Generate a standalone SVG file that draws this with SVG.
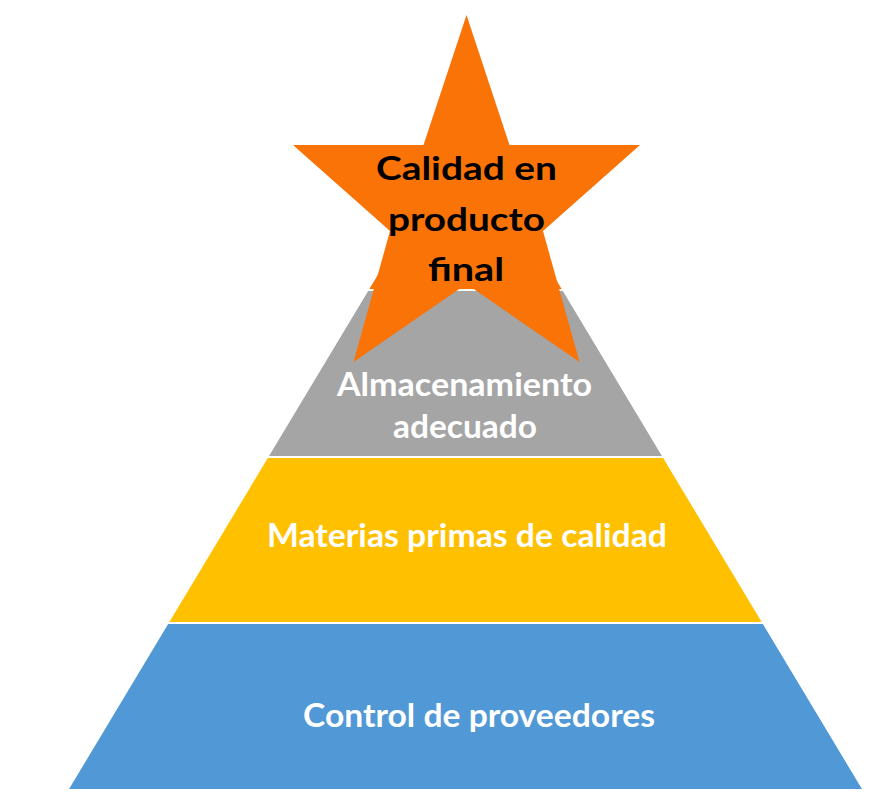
<svg xmlns="http://www.w3.org/2000/svg" width="874" height="802" viewBox="0 0 874 802">
<style>
.band{stroke:#FFFFFF;stroke-width:2;stroke-linejoin:miter}
.lbl{font-family:Lato,"Open Sans","Liberation Sans",sans-serif;font-weight:700;font-size:33px;text-anchor:middle}
.w{fill:#FFFFFF}
.k{fill:#000000}
</style>
<rect width="874" height="802" fill="#FFFFFF"/>
<g id="top-tier">
<polygon class="band" fill="#F97306" points="465.5,127 563.4,290 367.6,290"/>
</g>
<g id="almacenamiento">
<polygon class="band" fill="#A5A5A5" points="367.6,290 563.4,290 663.7,457 267.3,457"/>
<text class="lbl w" x="464.5" y="396" textLength="255" lengthAdjust="spacingAndGlyphs">Almacenamiento</text>
<text class="lbl w" x="465" y="438" textLength="144" lengthAdjust="spacingAndGlyphs">adecuado</text>
</g>
<g id="materias">
<polygon class="band" fill="#FFC000" points="267.3,457 663.7,457 763.4,623 167.6,623"/>
<text class="lbl w" x="467" y="547" textLength="400" lengthAdjust="spacingAndGlyphs">Materias primas de calidad</text>
</g>
<g id="control">
<polygon class="band" fill="#5098D6" points="167.6,623 763.4,623 863.7,790 67.3,790"/>
<text class="lbl w" x="479" y="727" textLength="352" lengthAdjust="spacingAndGlyphs">Control de proveedores</text>
</g>
<g id="star">
<polygon fill="#F97306" points="466.5,15 509.5,145 640,145 543,231 579.5,362 466.5,284 353.5,362 390,231 293,145 423.5,145"/>
<text class="lbl k" x="466.5" y="180" textLength="181" lengthAdjust="spacingAndGlyphs">Calidad en</text>
<text class="lbl k" x="466.5" y="231" textLength="157" lengthAdjust="spacingAndGlyphs">producto</text>
<text class="lbl k" x="466" y="281" textLength="76" lengthAdjust="spacingAndGlyphs">final</text>
</g>
</svg>
